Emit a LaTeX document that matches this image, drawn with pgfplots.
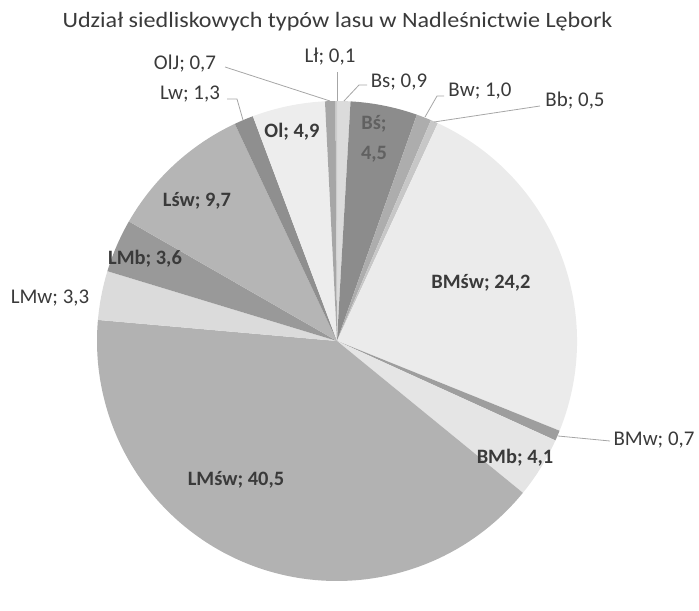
\documentclass[border=0pt]{standalone}
\usepackage{pgfplots}
\usepackage{pgfplotstable}
\pgfplotsset{compat=1.18}
\usepackage{fontspec}
\setmainfont{Carlito}
\definecolor{tc}{HTML}{3A3A3A}
\definecolor{lc}{HTML}{A6A6A6}
\tikzset{
  lab/.style={font=\fontsize{21}{24}\selectfont, text=tc, inner sep=0pt},
  blab/.style={font=\fontsize{20.5}{24}\selectfont\bfseries, text=tc, inner sep=0pt}}
\pgfplotstableread[col sep=comma]{
name,value,gray
Bs,0.9,0.86
Bsw,4.5,0.55
Bw,1.0,0.68
Bb,0.5,0.78
BMsw,24.2,0.92
BMw,0.7,0.62
BMb,4.1,0.90
LMsw,40.5,0.70
LMw,3.3,0.86
LMb,3.6,0.60
Lsw,9.7,0.71
Lw,1.3,0.56
Ol,4.9,0.93
OlJ,0.7,0.65
Ll,0.1,0.80
}\piedata
\newcommand{\px}[2]{(axis cs:{#1-337},{341-#2})}
\begin{document}
\begin{tikzpicture}
\begin{axis}[hide axis, x=1bp, y=1bp, xmin=-337, xmax=362, ymin=-243, ymax=341, clip=false]
\pgfplotsextra{
  \pgfplotstablegetrowsof{\piedata}
  \pgfmathtruncatemacro{\nrows}{\pgfplotsretval-1}
  \xdef\cum{0}
  \foreach \i in {0,...,\nrows}{
    \pgfplotstablegetelem{\i}{value}\of{\piedata}\let\v\pgfplotsretval
    \pgfplotstablegetelem{\i}{gray}\of{\piedata}\let\g\pgfplotsretval
    \pgfmathsetmacro{\a}{90-3.6*\cum}
    \pgfmathsetmacro{\b}{90-3.6*(\cum+\v)}
    \definecolor{slc}{gray}{\g}
    \fill[slc] (axis cs:0,0) -- ++(\a:240bp) arc[start angle=\a, end angle=\b, radius=240bp] -- cycle;
    \pgfmathsetmacro{\c}{\cum+\v}
    \xdef\cum{\c}
  }
  \path (axis cs:-337,-243) rectangle (axis cs:362,341);
}
% title
\node[anchor=base, font=\fontsize{22}{26}\selectfont, text=tc, inner sep=0pt, xscale=1.1, transform shape] at \px{337.5}{28} {Udział siedliskowych typów lasu w Nadleśnictwie Lębork};
% leader lines
\draw[lc, line width=0.8bp] \px{225}{67} -- \px{330}{101};
\draw[lc, line width=0.8bp] \px{337}{72} -- \px{337}{101};
\draw[lc, line width=0.8bp] \px{367}{85} -- \px{359}{85} -- \px{344}{101};
\draw[lc, line width=0.8bp] \px{444}{96} -- \px{437}{96} -- \px{425}{117};
\draw[lc, line width=0.8bp] \px{540}{106} -- \px{434}{122};
\draw[lc, line width=0.8bp] \px{227}{99} -- \px{237}{99} -- \px{243}{120};
\draw[lc, line width=0.8bp] \px{558}{436} -- \px{610}{441};
% outside labels
\node[lab, anchor=base] at \px{185}{70} {OlJ; 0,7};
\node[lab, anchor=base] at \px{330}{63} {Lł; 0,1};
\node[lab, anchor=base] at \px{399}{88} {Bs; 0,9};
\node[lab, anchor=base] at \px{480}{97} {Bw; 1,0};
\node[lab, anchor=base] at \px{575}{107} {Bb; 0,5};
\node[lab, anchor=base] at \px{190}{100} {Lw; 1,3};
\node[lab, anchor=base] at \px{50}{304} {LMw; 3,3};
\node[lab, anchor=base] at \px{654}{445} {BMw; 0,7};
% inside labels
\node[blab, anchor=base, text=black!62] at \px{374}{130} {Bś;};
\node[blab, anchor=base, text=black!62] at \px{374}{160} {4,5};
\node[blab, anchor=base] at \px{292}{138} {Ol; 4,9};
\node[blab, anchor=base] at \px{197}{207} {Lśw; 9,7};
\node[blab, anchor=base] at \px{145}{265} {LMb; 3,6};
\node[blab, anchor=base] at \px{481}{289} {BMśw; 24,2};
\node[blab, anchor=base] at \px{515}{463} {BMb; 4,1};
\node[blab, anchor=base] at \px{236}{485} {LMśw; 40,5};
\end{axis}
\end{tikzpicture}
\end{document}
